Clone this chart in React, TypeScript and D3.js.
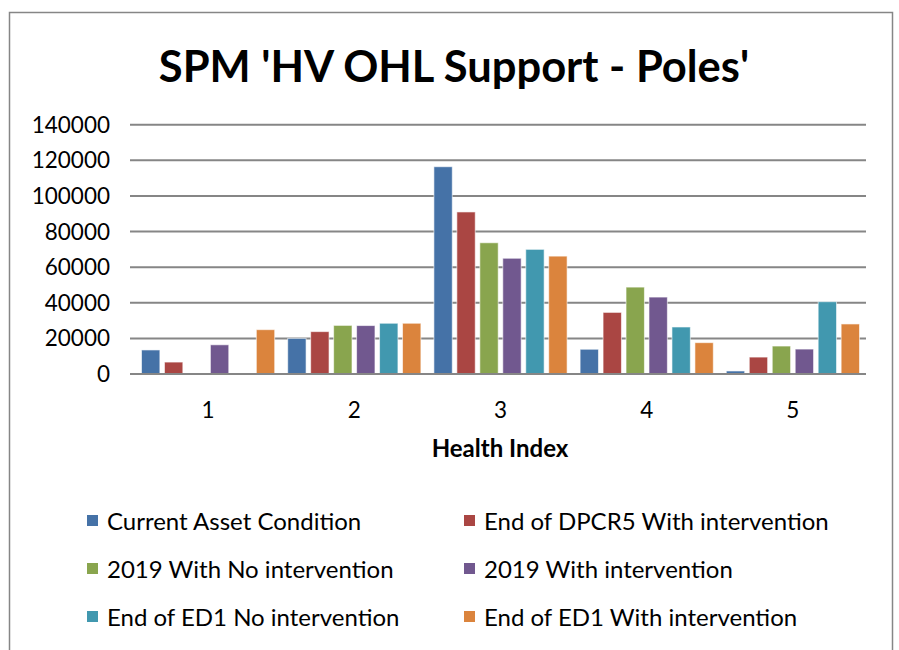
import React, { useRef, useEffect } from 'react';
import * as d3 from 'd3';

const categories = ['1', '2', '3', '4', '5'];
const seriesNames = [
  'Current Asset Condition',
  'End of DPCR5 With intervention',
  '2019 With No intervention',
  '2019 With intervention',
  'End of ED1 No intervention',
  'End of ED1 With intervention',
];
const currentAsset = [13500, 20000, 116400, 13900, 1700];
const endDpcr5With = [6700, 23800, 91000, 34600, 9500];
const y2019NoInt = [0, 27300, 73700, 48800, 15700];
const y2019With = [16400, 27200, 65000, 43200, 14000];
const ed1NoInt = [0, 28500, 70000, 26400, 40600];
const ed1With = [24900, 28500, 66200, 17600, 28100];
const yTicks = [0, 20000, 40000, 60000, 80000, 100000, 120000, 140000];
const colors = ['#4572A7', '#AA4643', '#89A54E', '#71588F', '#4198AF', '#DB843D'];

const App = () => {
  const ref = useRef<HTMLDivElement>(null);

  useEffect(() => {
    const width = 899;
    const height = 650;
    const font = 'Lato, "Open Sans", sans-serif';
    const values = [currentAsset, endDpcr5With, y2019NoInt, y2019With, ed1NoInt, ed1With];
    const plot = { left: 135, right: 866, top: 124.7, bottom: 374 };

    const svg = d3.create('svg')
      .attr('width', width)
      .attr('height', height)
      .style('position', 'absolute')
      .style('left', '0px')
      .style('top', '0px')
      .style('font-family', font);

    svg.append('rect')
      .attr('width', width).attr('height', height).attr('fill', '#fff');

    // chart border (bottom runs off the picture)
    svg.append('rect')
      .attr('x', 9.5).attr('y', 12.5)
      .attr('width', 883).attr('height', 660)
      .attr('fill', 'none').attr('stroke', '#868686').attr('stroke-width', 1.5);

    svg.append('text')
      .attr('x', 454).attr('y', 82)
      .attr('text-anchor', 'middle')
      .attr('font-size', 43.5).attr('font-weight', 'bold')
      .text("SPM 'HV OHL Support - Poles'");

    const x0 = d3.scaleBand().domain(categories).range([plot.left, plot.right]);
    const x1 = d3.scaleBand<number>()
      .domain(d3.range(seriesNames.length))
      .range([6.5, x0.bandwidth() - 6.5])
      .paddingInner(0.2);
    const y = d3.scaleLinear().domain([0, 140000]).range([plot.bottom, plot.top]);

    // gridlines
    svg.append('g')
      .selectAll('line')
      .data(yTicks)
      .join('line')
      .attr('x1', plot.left - 5).attr('x2', plot.right)
      .attr('y1', d => y(d)).attr('y2', d => y(d))
      .attr('stroke', '#868686').attr('stroke-width', 2);

    svg.append('g')
      .selectAll('text')
      .data(yTicks)
      .join('text')
      .attr('x', 110).attr('y', d => y(d) + 8)
      .attr('text-anchor', 'end')
      .attr('font-size', 22.5)
      .text(d => String(d));

    // bars
    const groups = svg.append('g')
      .selectAll('g')
      .data(categories)
      .join('g')
      .attr('transform', d => `translate(${x0(d)},0)`);

    groups.selectAll('rect')
      .data((_, i) => values.map((s, k) => ({ k, v: s[i] })).filter(d => d.v > 0))
      .join('rect')
      .attr('x', d => x1(d.k)!)
      .attr('y', d => y(d.v))
      .attr('width', x1.bandwidth())
      .attr('height', d => y(0) - y(d.v))
      .attr('fill', d => colors[d.k])
      .attr('stroke', '#fff').attr('stroke-opacity', 0.6).attr('stroke-width', 1);

    svg.append('line')
      .attr('x1', plot.left).attr('x2', plot.right)
      .attr('y1', y(0)).attr('y2', y(0))
      .attr('stroke', '#868686').attr('stroke-width', 2);

    svg.append('g')
      .selectAll('text')
      .data(categories)
      .join('text')
      .attr('x', d => x0(d)! + x0.bandwidth() / 2)
      .attr('y', 418)
      .attr('text-anchor', 'middle')
      .attr('font-size', 22.5)
      .text(d => d);

    svg.append('text')
      .attr('x', 500).attr('y', 457)
      .attr('text-anchor', 'middle')
      .attr('font-size', 24).attr('font-weight', 'bold')
      .text('Health Index');

    // legend, two columns
    const legend = svg.append('g')
      .selectAll('g')
      .data(seriesNames)
      .join('g')
      .attr('transform', (_, i) => `translate(${i % 2 === 0 ? 87 : 464},${521 + Math.floor(i / 2) * 48})`);

    legend.append('rect')
      .attr('x', 0).attr('y', -6)
      .attr('width', 11).attr('height', 11)
      .attr('fill', (_, i) => colors[i]);

    legend.append('text')
      .attr('x', 20).attr('y', 9)
      .attr('font-size', 24)
      .text(d => d);

    ref.current!.innerHTML = '';
    ref.current!.appendChild(svg.node()!);
  }, []);

  return <div ref={ref} style={{ width: 899, height: 650 }} />;
};

export default App;
